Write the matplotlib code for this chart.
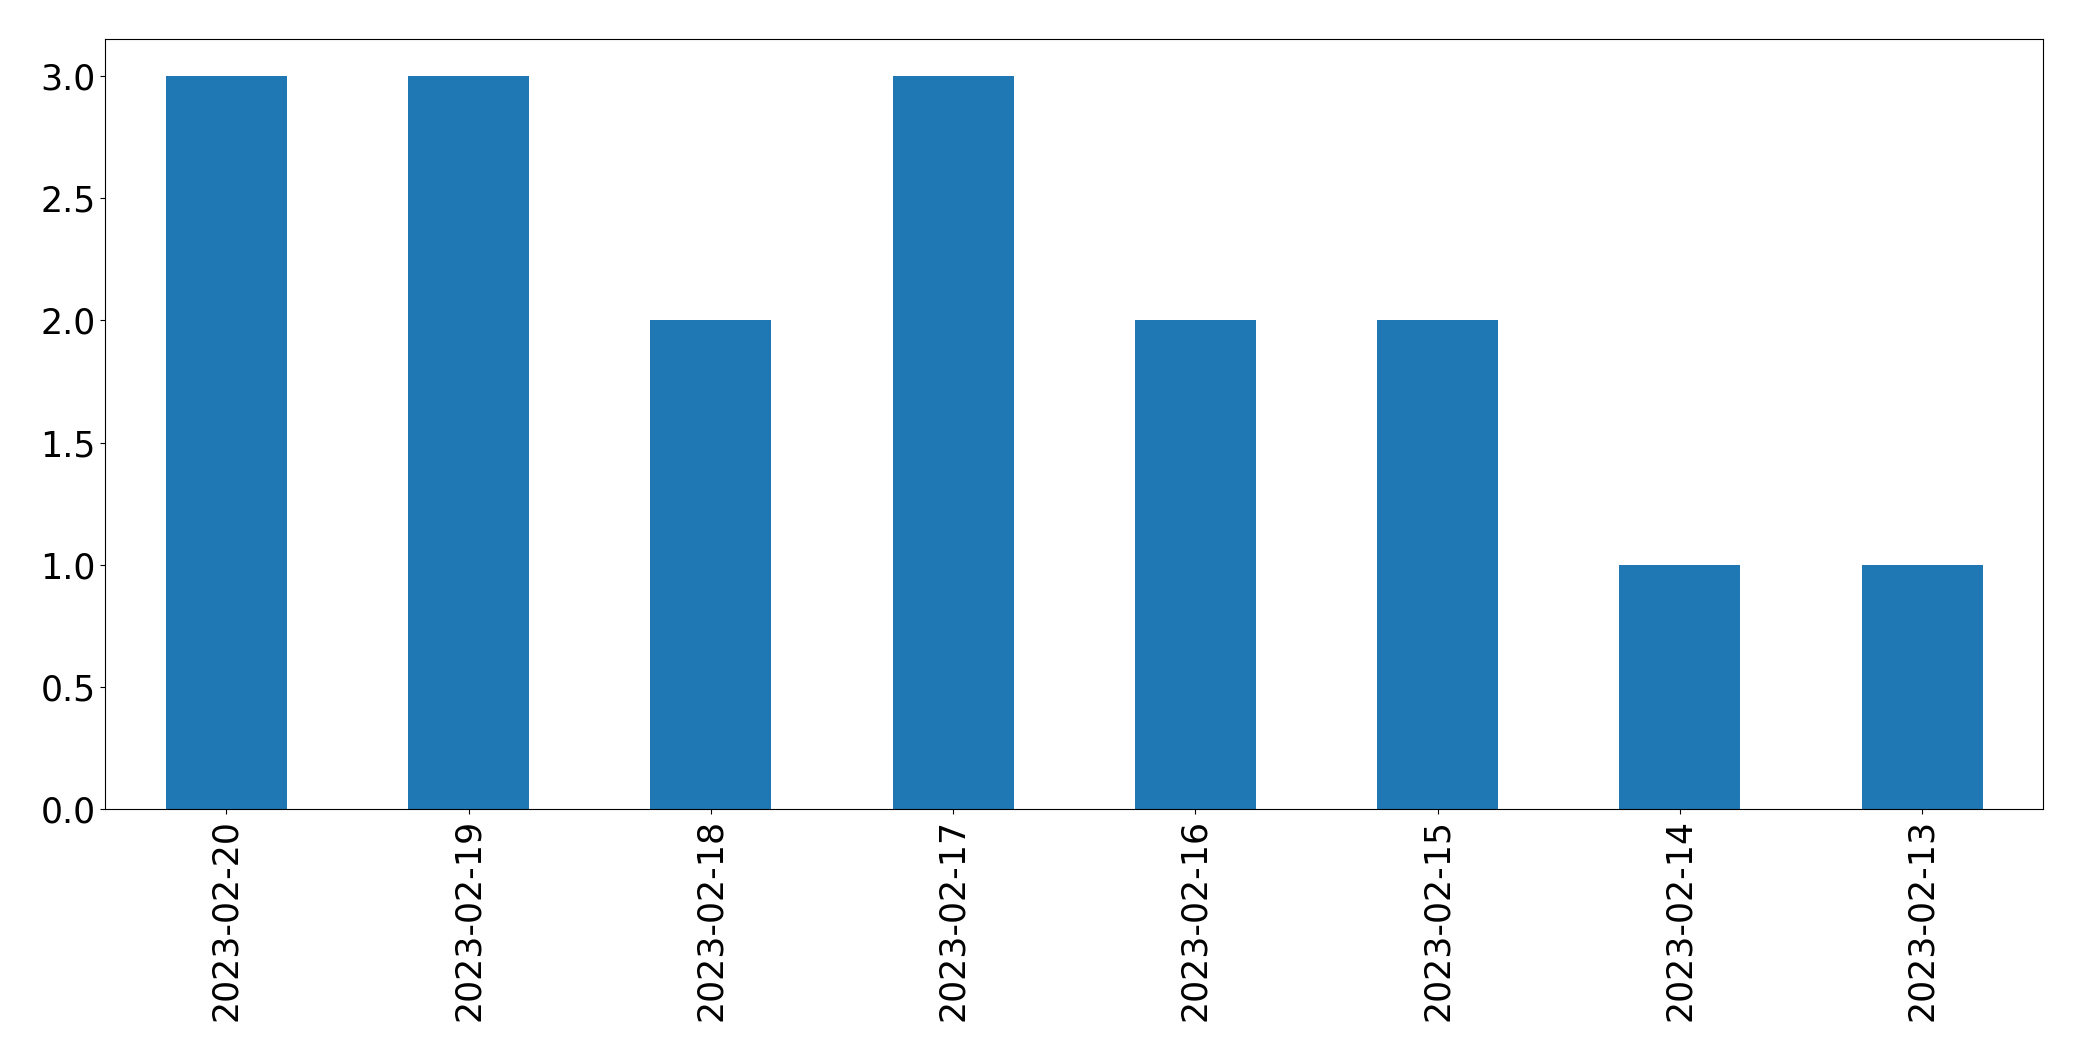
import matplotlib
matplotlib.use("Agg")
import matplotlib.pyplot as plt
import numpy as np

dates = ["2023-02-20", "2023-02-19", "2023-02-18", "2023-02-17",
         "2023-02-16", "2023-02-15", "2023-02-14", "2023-02-13"]
counts = [3, 3, 2, 3, 2, 2, 1, 1]

fig = plt.figure(figsize=(20.82, 10.61), dpi=100)
ax = fig.add_axes([105.3 / 2082, (1061 - 809.3) / 1061, 1938 / 2082, 770 / 1061])
x = np.arange(len(dates))
ax.bar(x, counts, width=0.5, color="#1f77b4")
ax.set_xlim(-0.5, len(dates) - 0.5)
ax.set_ylim(0, 3.15)
ax.set_xticks(x)
ax.set_xticklabels(dates, rotation=90, fontsize=25)
ax.set_yticks([0, 0.5, 1.0, 1.5, 2.0, 2.5, 3.0])
ax.set_yticklabels(["0.0", "0.5", "1.0", "1.5", "2.0", "2.5", "3.0"], fontsize=25)
fig.savefig("out.png", dpi=100)
